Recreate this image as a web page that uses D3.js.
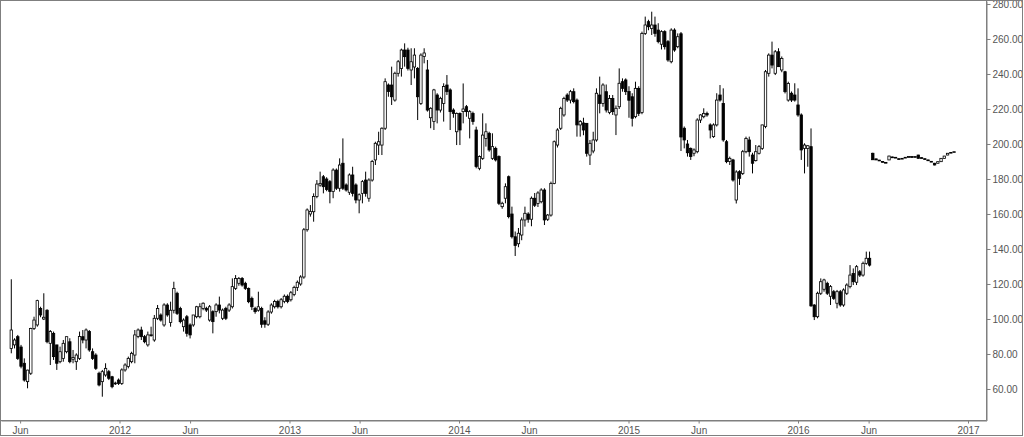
<!DOCTYPE html>
<html><head><meta charset="utf-8">
<script src="https://cdn.jsdelivr.net/npm/d3@7/dist/d3.min.js"></script>
<style>html,body{margin:0;padding:0;background:#fff;overflow:hidden}</style>
</head><body><svg id="c" width="1024" height="437"></svg>
<script>
// ---- data (weekly candles) ----
const firstWeek = "2011-05-13";
// [open, high, low, close]
const ohlcMain = [
[83.2,122.7,80.4,93.7],[85.2,89,83.2,88],[89.9,90.9,76.6,77.5],[84,85.2,71.8,73],[74.7,77.5,64.2,65.1],
[64.2,71,60.4,70.8],[69,95,68,94.6],[94.6,101.3,93.7,99.4],[96.6,111,95.6,110.5],[106,107,101,102.3],
[100,114.7,99.4,101],[105,105.6,86.1,87],[86.1,93.7,73.7,92.8],[91.8,92.8,76.6,78.5],[85.2,85.2,70.9,74.7],
[75.6,84.2,74.7,81.3],[77.5,88,75.6,86.1],[81.3,89.9,80.4,89.9],[87,89,74.7,75.6],[77,82.3,74.7,78],
[75.6,80.4,70.9,79.4],[77.5,92.8,76.6,90],[89.9,93.7,86.1,88],[88,94.6,83.2,93.7],[92.8,93.7,81.3,82.3],
[81.3,83.2,76.6,77.5],[79.4,80.4,70.9,71.8],[69,69.9,61.5,62.3],[64.2,70.9,55.6,69.9],[68,74.7,67,71.8],
[69.9,70.9,65.1,66.1],[67,67.5,60.4,61.3],[63,64.2,62.3,63.4],[65.1,66,62.3,63.2],[63.2,71.8,62.3,70.9],
[70.9,74.7,69.9,73.7],[72.8,78.5,71.8,77.5],[75.6,81.3,74.7,80.4],[79.4,93.7,74.7,90.9],[90,94.6,89,93.7],
[93.7,95.6,88,89.9],[89.9,90.9,86.1,87],[85.2,92.8,84.2,90.9],[90.5,95.6,89.9,91],[88,102.3,87,100.4],
[100.4,108,99.4,106],[102.3,103.2,98.5,99.4],[96.6,109,95.6,108],[108,109,101.3,102.3],[98,109.9,95.6,105],
[105,121.3,103.2,117.5],[114.7,115.6,102.3,103.2],[106,107,97.5,98.5],[95.6,100.4,92.8,99.4],[101.3,102.3,89.9,91.8],
[96.6,97.5,88.9,90.9],[96.6,102.3,95.6,102.3],[101.3,107.5,100.4,107],[101.3,109,100.4,107],[106,109.5,105,109],
[106.1,107,104,105.1],[99.4,108,98.5,107],[104.2,105,91.8,98.5],[104.2,109,101.3,108],[108,112.8,103.2,105.1],
[100.4,106,99.4,105.1],[106.1,107,99.4,100.4],[105.1,109,104,108],[107,123.2,106,118.5],[117.5,125.1,116.6,123.2],
[120.4,124,119,123.2],[123.2,124,118.5,119.4],[120.4,121.3,116.6,117.5],[117.5,118,109,109.9],[111.8,112.8,105.1,107],
[106.1,107,103,104.2],[105,115.6,104.2,107],[106,107,95,97],[99,101,95,97],[97,105,96,104],
[104,109,103,108],[107,111,106,110],[110,111,106,107],[107,112,106,111],[110,114,109,113],
[113,114,109,110],[111,116,110,115],[114,119,113,118],[118,122,116,121],[120,125,119,124],
[124,152,123,151],[151,163.2,149.9,162.3],[160,165.1,158.5,161.5],[161.3,171.8,155.6,170],[170,179.4,169,177.1],
[176.5,184.2,175.6,177.5],[181.3,182.3,171.8,175.6],[180,181,173,174],[178.5,179.4,166.1,172.8],[172.8,186.1,169,185.1],
[185.1,186,173.7,174.7],[174.7,191.8,172.8,188],[189,203.2,173.7,174.7],[176.6,177.5,172.8,173.7],[172.4,183.2,170.9,182.3],
[182.3,187,170,171.8],[176.6,177.5,166.1,168],[168,171.8,160.4,171],[171.8,179.4,166.1,178.5],[179.4,184.2,169.9,171.8],
[169,180.4,167,179.4],[179.4,190.9,178.5,190],[190.9,201.3,188,200.4],[199.4,207,193.7,201.3],[199.4,209.5,193.7,209],
[209,237.5,208,235.6],[233.7,234.6,227,230],[233.7,244.2,222.3,227],[225.1,241.3,224.2,240.4],[240.4,248,238.5,247],
[243.2,254.5,238.5,253.7],[253.7,257.5,244.2,249.9],[253.7,255,242,243.2],[242.3,254.7,233.7,247],[244,254.7,237.5,250.8],
[243.2,244,213.7,227],[223.2,251.8,222.3,250.8],[250,254.7,246.1,252],[242.3,248,218.5,219.4],[215,221,209,220.4],
[212.8,231.5,208,230.9],[228,229,211.8,219.4],[219.4,227,218,226.1],[223.2,234.7,212.8,232.8],[233.7,239.4,228,229.9],
[230.9,231.8,208,218.5],[219.4,220.4,215,217.5],[207,218,199.4,217.5],[217.5,218,199.4,208],[218.5,234.6,211.8,220],
[221.3,222.3,215.6,218.5],[214.7,219.4,203.2,218.5],[217.5,218.5,211,212.8],[208,209.9,186.1,187.1],[186.1,193.5,185,192.8],
[191.8,217.5,190.9,205.1],[203.2,211.8,198.5,207],[206.1,207,195.6,196.6],[191.8,206.1,190.9,198.5],[197.5,198.5,190,190.9],
[192.8,193.5,165.1,166.1],[164.2,167,163,166.1],[169,177.5,166.1,175.6],[181.3,182,157.5,158.5],[160,164.2,146,147],
[147,150,136,142],[143,152,141,149],[148,158,145,156.6],[156.6,164.2,152.8,160.4],[160,161,155,157],
[157,170,153,169],[169,172,164,165],[166,173,164,172],[167,174.7,166.1,173.7],[173.7,174.7,153.7,156.6],
[157,160,156,159.4],[159.4,178.5,158.5,177.5],[177.5,202,177,201.3],[199.4,209,198,208],[209,221.3,208,220.4],
[216.6,227,215.6,226],[228,229,224,225.1],[225.1,230.9,223.2,229.9],[229.9,231.8,223.2,224.2],[225.1,226,204.2,210.9],
[210.9,213.7,204.2,212.8],[212,215,205,208],[211.8,212,192.8,194.7],[193.7,202.3,188,200.4],[196,207,194.7,202.3],
[202.3,231.8,201.3,229],[228,238.5,217.5,223.2],[223.2,234.7,221.3,233.7],[229.9,234,218,219.4],[218,228,217,226],
[226,228,216.6,218.5],[216.6,222,205.1,220.4],[221.3,243.2,220,234.7],[235.6,237.5,229.9,231.8],[236.6,237.5,228,229.9],
[230,233,215,225],[227,229,210,214.7],[215.6,235.6,214.7,231.8],[231.8,233,216,217.5],[218,264.2,217,263.2],
[263.2,272.8,262.3,268],[269.9,271,265,267],[266,275.6,262.3,268],[268,272.8,261.3,263.2],[265.1,269,257.5,258.5],
[257,265,254,264.2],[264.2,265,254,255.6],[258.5,259.4,247,248],[247,266.1,246.1,265.1],[265.1,266.1,252.7,253.7],
[255.6,263.2,254.7,261.3],[263,264,196,204],[209,210,197.5,202.3],[200,202.3,192.8,195],[197.5,198,190.9,192.8],
[194.7,197.5,193,196.6],[195.6,214.7,194.7,213.7],[213.7,217,212,216.6],[215.6,220.4,214.7,217.5],[217.5,218.5,215.6,216.6],
[210.9,211.8,203.2,208],[204.2,211.8,203.5,210.9],[210.9,229,210,225.1],[228,233.7,224.2,225.1],[223.2,231.8,201.3,202.3],
[201.3,202.3,189,189.9],[190,192.8,188,191.8],[190.9,191.5,178.5,179.4],[168,185,166,184],[184.2,185,176.6,180.4],
[183.2,196.6,182.3,195.6],[195.6,204.2,194.7,203.2],[202.3,204.2,192.8,195.6],[193.7,195,183.2,189],[190.5,199.4,190,195.6],
[194.7,199.4,194,198.5],[197.5,211,196.6,210.9],[210,242.3,209,241.3],[240.4,251.8,238.5,250.8],[250.8,258.5,243.2,245.1],
[240.4,253.7,239.4,252.7],[252.7,254.7,244,244.2],[242.3,250,241,248.9],[241.3,241.8,228.9,229.9],[225.1,235.6,224.2,234.6],
[229,230,224,225.1],[228,234.7,224.2,225.1],[222.3,231.8,215.6,216.6],[216.6,217.5,190.9,196.6],[197.5,200.4,183.2,199.4],
[197.5,199.4,187,199],[198.5,208.9,107,107.5],[108,108.5,99.4,101.3],[101.3,115.6,100.4,114.7],[114.7,123.2,113.7,121.3],
[117,123,115.6,122.3],[120.4,121.3,113.7,114.7],[113,119.4,108,118.5],[115.6,116.6,110.9,111.8],[109,116.6,106.1,115.6],
[115.6,116.6,107,108],[108,117.5,107,116.6],[114.7,120.4,113.7,119.4],[118.5,130.8,117.5,125.1],[126,128.9,119.4,121.3],
[121,130.8,119.4,129.9],[127,128,124,125.1],[125.1,132.8,124.2,131.8],[131.8,138.5,131,134.7],[134.7,138.5,130,130.8]
];
const secondStartWeek = 265; // weeks after firstWeek
const ohlcSecond = [
[194.7,195,190.9,191],[191.5,191.6,190.9,190.9],[190.8,190.9,190.3,190.5],[190,190.1,189.5,189.7],[189.5,189.6,189.1,189.3],
[190.9,193.3,190.8,193.1],[192.6,192.8,192.2,192.4],[192.4,192.5,192,192.2],[191.6,191.7,191.2,191.4],[191.6,192,191.5,191.8],
[192.2,192.5,192.1,192.4],[192.6,193,192.5,192.8],[192.8,192.9,192.4,192.6],[192.6,193,192.5,192.8],[193.7,193.8,191.7,191.8],
[192.2,192.3,191.9,192],[191.6,191.7,191.2,191.4],[190.9,191,190.5,190.7],[190.1,190.2,189.7,189.9],[189,189.2,187.8,188],
[189,190,188.9,189.9],[189.9,191.9,189.8,191.8],[191.8,193.2,191.7,193.1],[193.7,194.8,193.6,194.7],[195,195.3,194.9,195.2],
[195.4,195.7,195.3,195.6]
];
const yTickValues = [60,80,100,120,140,160,180,200,220,240,260,280];
const xTickDates = ["2011-06-01","2012-01-01","2012-06-01","2013-01-01","2013-06-01","2014-01-01","2014-06-01","2015-01-01","2015-06-01","2016-01-01","2016-06-01","2017-01-01"];
const xTickLabels = ["Jun","2012","Jun","2013","Jun","2014","Jun","2015","Jun","2016","Jun","2017"];

// ---- layout ----
const W = 1024, H = 437;
const plotLeft = 1, plotRight = 986.5, plotTop = 1, plotBottom = 420.5;
const parse = d3.utcParse("%Y-%m-%d");
const DAY = 864e5;

const xBase = d3.scaleUtc().domain([parse("2012-01-01"), parse("2017-01-01")]).range([119.5, 968]);
const x = d3.scaleUtc().domain([xBase.invert(plotLeft), xBase.invert(plotRight)]).range([plotLeft, plotRight]);
const y = d3.scaleLinear().domain([42, 281.714]).range([plotBottom, plotTop]);

const svg = d3.select("#c");
svg.append("rect").attr("width", W).attr("height", H).attr("fill", "#fff");

const t0 = parse(firstWeek).getTime();
function toCandles(rows, offset) {
  return rows.map((r, i) => ({date: new Date(t0 + (offset + i) * 7 * DAY), o: r[0], h: r[1], l: r[2], c: r[3]}));
}
const candles = toCandles(ohlcMain, 0).concat(toCandles(ohlcSecond, secondStartWeek));

const g = svg.append("g");
const bw = 2.4;
const cg = g.selectAll("g.c").data(candles).join("g").attr("class", "c");
cg.append("line")
  .attr("x1", d => x(d.date)).attr("x2", d => x(d.date))
  .attr("y1", d => y(d.h)).attr("y2", d => y(d.l))
  .attr("stroke", "#000").attr("stroke-width", 1);
cg.append("rect")
  .attr("x", d => x(d.date) - bw / 2)
  .attr("width", bw)
  .attr("y", d => Math.min(y(d.o), y(d.c)))
  .attr("height", d => Math.max(0.8, Math.abs(y(d.o) - y(d.c))))
  .attr("fill", d => d.c >= d.o ? "#fff" : "#000")
  .attr("stroke", "#000").attr("stroke-width", 0.8);

// ---- axes ----
const axisColor = "#7f7f7f", textColor = "#555";
const yAxis = d3.axisRight(y).tickValues(yTickValues).tickFormat(d3.format(".2f")).tickSize(4).tickSizeOuter(0).tickPadding(2);
const ya = svg.append("g").attr("transform", `translate(${plotRight},0)`).call(yAxis);
const xAxis = d3.axisBottom(x).tickValues(xTickDates.map(parse))
  .tickFormat((d, i) => xTickLabels[i]).tickSize(3).tickSizeOuter(0).tickPadding(3);
const xa = svg.append("g").attr("transform", `translate(0,${plotBottom})`).call(xAxis);
[ya, xa].forEach(a => {
  a.select(".domain").attr("stroke", axisColor);
  a.selectAll(".tick line").attr("stroke", axisColor);
  a.selectAll(".tick text").attr("fill", textColor)
    .style("font-family", "'Liberation Sans', Arial, sans-serif").style("font-size", "10px");
});
// plot top/left edges and outer frame
svg.append("line").attr("x1", plotRight).attr("x2", plotRight).attr("y1", 0).attr("y2", plotBottom).attr("stroke", axisColor);
svg.append("line").attr("x1", 0).attr("x2", plotRight).attr("y1", plotBottom).attr("y2", plotBottom).attr("stroke", axisColor);
svg.append("rect").attr("x", 0.5).attr("y", 0.5).attr("width", 1022).attr("height", 435)
  .attr("fill", "none").attr("stroke", axisColor);
</script></body></html>
